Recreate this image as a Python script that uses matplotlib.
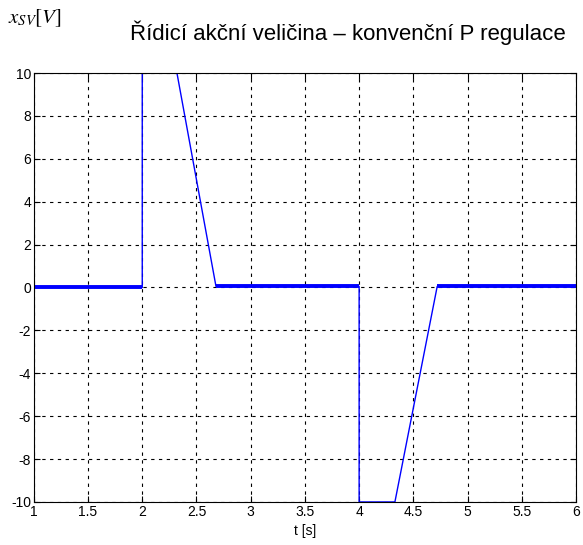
#!/usr/bin/env python3
"""
Control action of conventional P regulation: saturated output during the two
set-point steps, with measurement noise visible around zero.
"""

import matplotlib
matplotlib.use("Agg")
import matplotlib.pyplot as plt

# breakpoints of the actuator signal (time in s, voltage in V)
T_SIGNAL = [1.0, 2.0, 2.0, 2.32, 2.68, 4.0, 4.0, 4.33, 4.72, 6.0]
X_SIGNAL = [0.0, 0.0, 10.0, 10.0, 0.05, 0.05, -10.0, -10.0, 0.05, 0.05]

# settled (noisy) intervals around zero
QUIET_T = [[1.0, 2.0], [2.68, 4.0], [4.72, 6.0]]
QUIET_X = [[0.0, 0.0], [0.05, 0.05], [0.05, 0.05]]

XTICKS = [1, 1.5, 2, 2.5, 3, 3.5, 4, 4.5, 5, 5.5, 6]
YTICKS = [-10, -8, -6, -4, -2, 0, 2, 4, 6, 8, 10]

BLUE = "#0000ff"

plt.rcParams["font.family"] = ["Liberation Sans", "DejaVu Sans"]
plt.rcParams["mathtext.fontset"] = "stix"

fig = plt.figure(figsize=(5.83, 5.45), dpi=100)
ax = fig.add_axes([0.058, 0.079, 0.930, 0.787])

ax.plot(T_SIGNAL, X_SIGNAL, color=BLUE, linewidth=1.0)
for t, x in zip(QUIET_T, QUIET_X):
    ax.plot(t, x, color=BLUE, linewidth=2.8, solid_capstyle="butt")

ax.set_xlim(1, 6)
ax.set_ylim(-10, 10)
ax.set_xticks(XTICKS)
ax.set_xticklabels([f"{v:g}" for v in XTICKS])
ax.set_yticks(YTICKS)
ax.set_yticklabels([f"{v:g}" for v in YTICKS])

ax.grid(True, color="black", linestyle=(0, (3, 4)), linewidth=0.8)
ax.tick_params(direction="in", top=True, right=True, length=4,
               labelsize=10, pad=2, width=0.8)
for s in ax.spines.values():
    s.set_linewidth(0.8)

ax.set_xlabel("t [s]", fontsize=10, labelpad=4)
fig.text(0.597, 0.940, "Řídicí akční veličina – konvenční P regulace",
         fontsize=16, ha="center", va="center")
fig.text(0.014, 0.966, r"$x_{SV}\left[V\right]$", fontsize=15,
         ha="left", va="center")

fig.savefig("out.png", dpi=100)
